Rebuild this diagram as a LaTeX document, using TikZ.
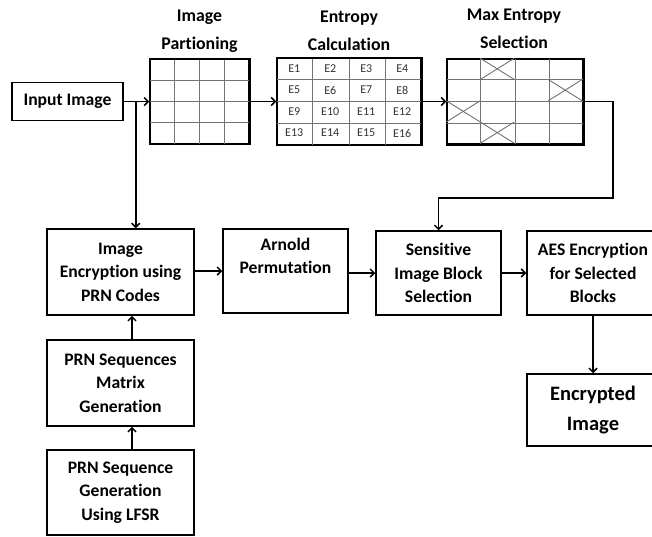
\documentclass[tikz,border=0pt]{standalone}
\usepackage{fontspec}
\setmainfont{Carlito}[Ligatures=NoCommon]
\usetikzlibrary{arrows.meta,calc}
\begin{document}
\begin{tikzpicture}[x=1pt,y=-1pt,
  box/.style={draw,line width=1.5pt,align=center,inner sep=0pt,
    font=\bfseries\fontsize{17.6}{23.5}\selectfont},
  grid/.style={draw,line width=1.5pt,inner sep=0pt},
  gridline/.style={draw=black!55,line width=0.9pt},
  title/.style={align=center,font=\bfseries\fontsize{17.8}{28}\selectfont},
  ent/.style={font=\fontsize{12}{13}\selectfont,text=black!80,inner sep=0pt},
  arr/.style={line width=1.5pt,-{Straight Barb[length=4pt,width=8pt]}},
  conn/.style={line width=1.5pt}]
\clip (0,0) rectangle (652,536);
\fill[white] (0,0) rectangle (652,536);
% boxes
\node[box,minimum width=111pt,minimum height=38pt] (inp) at (67.5,101.5) {Input Image};
\node[grid,minimum width=99pt,minimum height=84pt] (g1) at (199.5,101.5) {};
\node[grid,minimum width=144pt,minimum height=86pt] (g2) at (349,101.5) {};
\node[grid,minimum width=136pt,minimum height=85pt] (g3) at (515,101.5) {};
\node[title] (t1) at (199.5,31.5) {Image\\Partioning};
\node[title] (t2) at (349,31) {Entropy\\Calculation};
\node[title] (t3) at (514,29) {Max Entropy\\Selection};
\node[box,minimum width=147pt,minimum height=86pt] (enc) at (120.5,272) {Image\\Encryption using\\PRN Codes};
\node[box,minimum width=125pt,minimum height=84pt] (arn) at (285.5,271) {Arnold\\Permutation\\\strut};
\node[box,minimum width=125pt,minimum height=84pt] (sen) at (438.5,273) {Sensitive\\Image Block\\Selection};
\node[box,minimum width=132pt,minimum height=84pt] (aes) at (593,273) {AES Encryption\\for Selected\\Blocks};
\node[box,minimum width=132pt,minimum height=72pt,font=\bfseries\fontsize{20.5}{30}\selectfont] (out) at (593,410) {Encrypted\\Image};
\node[box,minimum width=147pt,minimum height=86pt] (mat) at (120.5,383) {PRN Sequences\\Matrix\\Generation};
\node[box,minimum width=147pt,minimum height=85pt] (lfsr) at (120.5,492.5) {PRN Sequence\\Generation\\Using LFSR};
% grid lines
\foreach \g in {g1,g2,g3}{
  \foreach \i in {1,2,3}{
    \draw[gridline] ($(\g.north west)!\i/4!(\g.north east)$) -- ($(\g.south west)!\i/4!(\g.south east)$);
    \draw[gridline] ($(\g.north west)!\i/4!(\g.south west)$) -- ($(\g.north east)!\i/4!(\g.south east)$);
  }
  \draw[line width=1.5pt] (\g.north west) rectangle (\g.south east);
}
% entropy labels
\foreach \r in {0,1,2,3}{
  \foreach \c in {0,1,2,3}{
    \pgfmathtruncatemacro{\n}{\r*4+\c+1}
    \node[ent] (e\n) at ($(g2.north west)+({(\c+0.5)*36},{(\r+0.5)*21.5})$) {E\n};
  }
}
% crosses in max entropy grid
\foreach \r/\c in {0/1,1/3,2/0,3/1}{
  \draw[gridline] ($(g3.north west)+({\c*34},{\r*21.25})$) -- ($(g3.north west)+({(\c+1)*34},{(\r+1)*21.25})$);
  \draw[gridline] ($(g3.north west)+({\c*34},{(\r+1)*21.25})$) -- ($(g3.north west)+({(\c+1)*34},{\r*21.25})$);
}
% connectors
\coordinate (br) at ($(inp.east)+(12,0)$);
\coordinate (c1) at (613,198);
\draw[arr] (inp.east) -- (g1.west);
\draw[arr] (g1.east) -- (g2.west);
\draw[arr] (g2.east) -- (g3.west);
\draw[arr] (g3.east) -| (c1) -| (sen.north);
\draw[arr] (br) -- (br |- enc.north);
\draw[arr] (enc.east |- arn.east) -- (arn.east -| arn.west);
\draw[arr] (arn.east |- sen.west) -- (sen.west);
\draw[arr] (sen.east) -- (aes.west);
\draw[arr] (aes.south) -- (out.north);
\draw[arr] ([xshift=11.5pt]mat.north) -- ([xshift=11.5pt]enc.south);
\draw[arr] ([xshift=11.5pt]lfsr.north) -- ([xshift=11.5pt]mat.south);
\end{tikzpicture}
\end{document}
